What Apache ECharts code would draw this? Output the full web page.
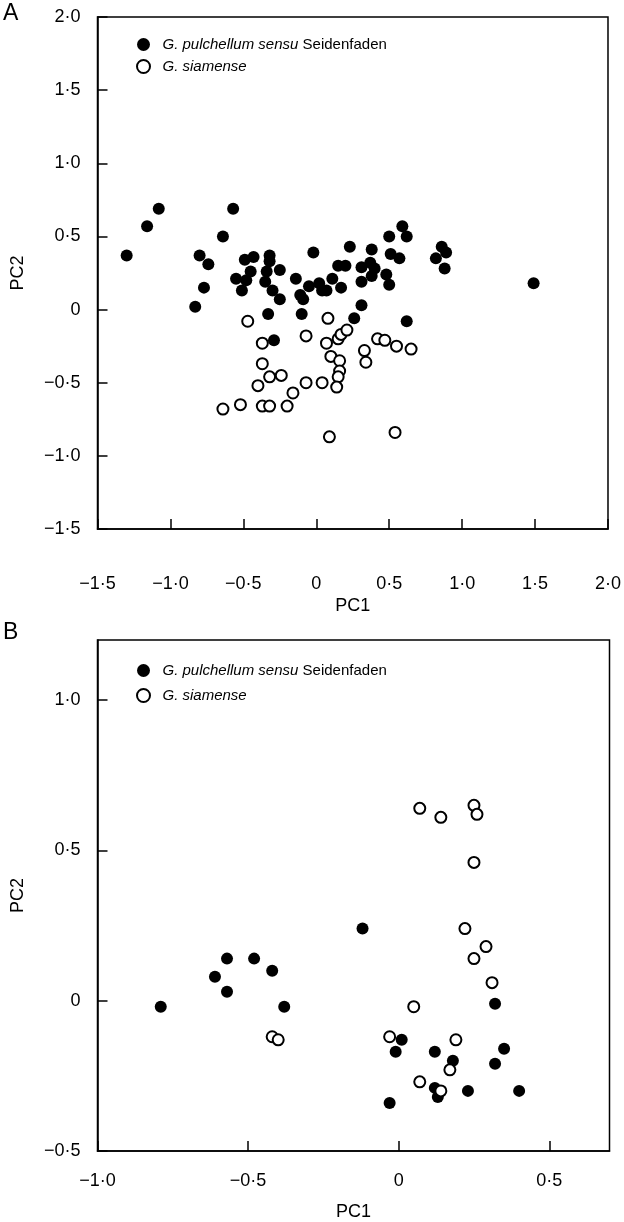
<!DOCTYPE html>
<html>
<head>
<meta charset="utf-8">
<script src="https://cdn.jsdelivr.net/npm/echarts@6/dist/echarts.min.js"></script>
<style>
html,body{margin:0;padding:0;background:#fff;}
#chart{width:624px;height:1222px;}
</style>
</head>
<body>
<div id="chart"></div>
<script>
// ---- Data ----
const seriesNames = ['G. pulchellum sensu Seidenfaden', 'G. siamense'];

// Panel A: G. pulchellum sensu Seidenfaden  [PC1, PC2]
const panelAPulchellum = [
  [-1.30,0.37],[-1.16,0.57],[-1.08,0.69],[-0.80,0.37],[-0.74,0.31],[-0.77,0.15],[-0.83,0.02],
  [-0.57,0.69],[-0.64,0.50],[-0.49,0.34],[-0.43,0.36],[-0.45,0.26],[-0.55,0.21],[-0.51,0.13],
  [-0.48,0.20],[-0.32,0.37],[-0.32,0.33],[-0.34,0.26],[-0.35,0.19],[-0.30,0.13],[-0.25,0.07],
  [-0.25,0.27],[-0.33,-0.03],[-0.29,-0.21],[-0.02,0.39],[-0.14,0.21],[-0.11,0.10],[-0.09,0.07],
  [-0.10,-0.03],[-0.05,0.16],[0.02,0.18],[0.04,0.13],[0.07,0.13],[0.11,0.21],[0.17,0.15],
  [0.15,0.30],[0.20,0.30],[0.23,0.43],[0.31,0.29],[0.31,0.19],[0.31,0.03],[0.26,-0.06],
  [0.38,0.41],[0.50,0.50],[0.59,0.57],[0.62,0.50],[0.51,0.38],[0.57,0.35],[0.37,0.32],
  [0.40,0.28],[0.38,0.23],[0.48,0.24],[0.50,0.17],[0.62,-0.08],[0.86,0.43],[0.89,0.39],
  [0.82,0.35],[0.88,0.28],[1.49,0.18]
];
// Panel A: G. siamense
const panelASiamense = [
  [-0.47,-0.08],[-0.37,-0.23],[-0.37,-0.37],[-0.32,-0.46],[-0.24,-0.45],[-0.40,-0.52],
  [-0.64,-0.68],[-0.52,-0.65],[-0.37,-0.66],[-0.32,-0.66],[-0.20,-0.66],[-0.16,-0.57],
  [-0.07,-0.18],[-0.07,-0.50],[0.04,-0.50],[0.08,-0.06],[0.07,-0.23],[0.10,-0.32],
  [0.15,-0.20],[0.17,-0.17],[0.21,-0.14],[0.16,-0.35],[0.16,-0.42],[0.15,-0.46],
  [0.14,-0.53],[0.09,-0.87],[0.33,-0.28],[0.34,-0.36],[0.42,-0.20],[0.47,-0.21],
  [0.55,-0.25],[0.65,-0.27],[0.54,-0.84]
];
// Panel B: G. pulchellum sensu Seidenfaden
const panelBPulchellum = [
  [-0.79,-0.02],[-0.57,0.14],[-0.48,0.14],[-0.61,0.08],[-0.57,0.03],[-0.42,0.10],[-0.38,-0.02],
  [-0.12,0.24],[0.32,-0.01],[0.01,-0.13],[-0.01,-0.17],[0.12,-0.17],[0.35,-0.16],[0.18,-0.20],
  [0.32,-0.21],[0.12,-0.29],[0.13,-0.32],[0.23,-0.30],[0.40,-0.30],[-0.03,-0.34]
];
// Panel B: G. siamense
const panelBSiamense = [
  [-0.42,-0.12],[-0.40,-0.13],[0.07,0.64],[0.14,0.61],[0.25,0.65],[0.26,0.62],[0.25,0.46],
  [0.22,0.24],[0.29,0.18],[0.25,0.14],[0.31,0.06],[0.05,-0.02],[-0.03,-0.12],[0.19,-0.13],
  [0.17,-0.23],[0.07,-0.27],[0.14,-0.30]
];

// Axis ranges / tick settings
const axisA = {xMin:-1.5, xMax:2.0, yMin:-1.5, yMax:2.0, step:0.5};
const axisB = {xMin:-1.0, xMax:0.7, yMin:-0.5, yMax:1.2, step:0.5};

// ---- Chart ----
const FONT = 'Liberation Sans, Arial, Helvetica, sans-serif';
function fmt(v){
  if (Math.abs(v) < 1e-9) return '0';
  const s = Math.abs(v).toFixed(1).replace('.', '\u00b7');
  return (v < 0 ? '\u2212' : '') + s;
}
const chart = echarts.init(document.getElementById('chart'), null, {renderer:'canvas'});

function xAxis(idx, ax, labelMargin, nameGap){
  return {
    gridIndex: idx, type:'value', min: ax.xMin, max: ax.xMax, interval: ax.step,
    name:'PC1', nameLocation:'middle', nameGap: nameGap,
    nameTextStyle:{fontFamily:FONT, fontSize:18, color:'#000'},
    axisLine:{show:true, onZero:false, lineStyle:{color:'#000', width:1.5}},
    axisTick:{show:true, inside:true, length:10, lineStyle:{color:'#000', width:1.5}},
    axisLabel:{formatter: fmt, margin: labelMargin, fontFamily:FONT, fontSize:18, color:'#000', showMaxLabel: idx===0, showMinLabel:true},
    splitLine:{show:false}
  };
}
function yAxis(idx, ax){
  return {
    gridIndex: idx, type:'value', min: ax.yMin, max: ax.yMax, interval: ax.step,
    name:'PC2', nameLocation:'middle', nameGap: 70,
    nameTextStyle:{fontFamily:FONT, fontSize:18, color:'#000'},
    axisLine:{show:true, onZero:false, lineStyle:{color:'#000', width:1.5}},
    axisTick:{show:true, inside:true, length:10, lineStyle:{color:'#000', width:1.5}},
    axisLabel:{formatter: fmt, margin: 17, fontFamily:FONT, fontSize:18, color:'#000', showMaxLabel: idx===0},
    splitLine:{show:false}
  };
}
const filledStyle = {color:'#000', borderColor:'#000', borderWidth:0, opacity:1};
const openStyle = {color:'#fff', borderColor:'#000', borderWidth:2, opacity:1};

function legend(top, gap){
  return {
    orient:'vertical', left:131, top: top, itemWidth:28, itemHeight:13, itemGap:gap,
    selectedMode:false,
    data:[
      {name: seriesNames[0], icon:'circle', itemStyle: filledStyle},
      {name: seriesNames[1], icon:'circle', itemStyle: openStyle}
    ],
    formatter: function(n){
      return n === seriesNames[0] ? '{i|G. pulchellum sensu} Seidenfaden' : '{i|G. siamense}';
    },
    textStyle:{fontFamily:FONT, fontSize:15, color:'#000', lineHeight:13,
      rich:{i:{fontFamily:FONT, fontSize:15, fontStyle:'italic', color:'#000', lineHeight:13}}}
  };
}

const option = {
  animation:false,
  backgroundColor:'#fff',
  grid:[
    {left:97.5, top:17, width:512, height:512, show:true, borderColor:'#000', borderWidth:1.5, backgroundColor:'transparent'},
    {left:97.5, top:640, width:512, height:512, show:true, borderColor:'#000', borderWidth:1.5, backgroundColor:'transparent'}
  ],
  xAxis:[xAxis(0, axisA, 46, 68), xAxis(1, axisB, 21, 52)],
  yAxis:[yAxis(0, axisA), yAxis(1, axisB)],
  legend:[legend(32, 7), legend(658, 10)],
  graphic:[
    {type:'text', left:3, top:2, style:{text:'A', font:'23px Liberation Sans', fill:'#000'}},
    {type:'text', left:3, top:621, style:{text:'B', font:'23px Liberation Sans', fill:'#000'}}
  ],
  series:[
    {name: seriesNames[0], type:'scatter', xAxisIndex:0, yAxisIndex:0, symbol:'circle', symbolSize:12, itemStyle: filledStyle, data: panelAPulchellum, z:2},
    {name: seriesNames[1], type:'scatter', xAxisIndex:0, yAxisIndex:0, symbol:'circle', symbolSize:11, itemStyle: openStyle, data: panelASiamense, z:3},
    {name: seriesNames[0], type:'scatter', xAxisIndex:1, yAxisIndex:1, symbol:'circle', symbolSize:12, itemStyle: filledStyle, data: panelBPulchellum, z:2},
    {name: seriesNames[1], type:'scatter', xAxisIndex:1, yAxisIndex:1, symbol:'circle', symbolSize:11, itemStyle: openStyle, data: panelBSiamense, z:3}
  ]
};
chart.setOption(option);
</script>
</body>
</html>
